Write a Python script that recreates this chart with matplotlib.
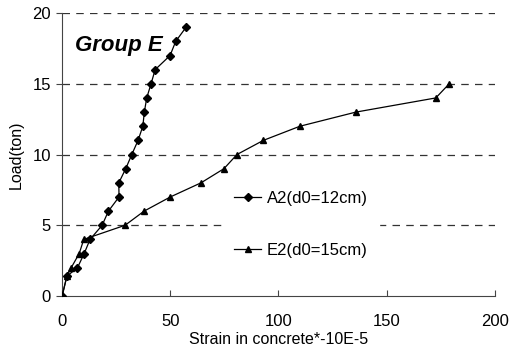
import numpy as np
import matplotlib.pyplot as plt

# A2 (d0=12cm) strain / load
a2_strain = [0, 2.2, 7.1, 10.2, 12.9, 18.5, 21.4, 26.3, 26.2, 29.4, 32.2, 35.1, 37.3, 38.0, 39.1, 41.1, 43.0, 49.9, 52.5, 57.3]
a2_load = [0, 1.4, 2, 3, 4, 5, 6, 7, 8, 9, 10, 11, 12, 13, 14, 15, 16, 17, 18, 19]

# E2 (d0=15cm)
e2_strain = [0, 2.2, 4.2, 7.9, 10.0, 29.1, 37.9, 50.0, 64.2, 74.8, 80.8, 93.0, 109.9, 135.8, 172.7, 178.9]
e2_load = [0, 1.4, 2, 3, 4, 5, 6, 7, 8, 9, 10, 11, 12, 13, 14, 15]

xticks = [0, 50, 100, 150, 200]
yticks = [0, 5, 10, 15, 20]

plt.rcParams['font.family'] = ['Liberation Sans', 'DejaVu Sans']

fig = plt.figure(figsize=(5.22, 3.53), dpi=100)
ax = fig.add_axes([0.119, 0.1615, 0.829, 0.8015])

for y in yticks[1:]:
    ax.plot([0, 200], [y, y], color='#333333', lw=0.9, dashes=(6, 5), zorder=1)

ax.plot(a2_strain, a2_load, color='black', lw=0.9, marker='D', ms=4, label='A2(d0=12cm)', zorder=3)
ax.plot(e2_strain, e2_load, color='black', lw=0.9, marker='^', ms=5, label='E2(d0=15cm)', zorder=3)

ax.set_xlim(0, 200)
ax.set_ylim(0, 20)
ax.set_xticks(xticks)
ax.set_yticks(yticks)
ax.tick_params(axis='x', direction='in', length=4, labelsize=12, pad=13, color='#444444')
ax.tick_params(axis='y', direction='out', length=4, labelsize=12, pad=4, color='#444444')
for s in ['top', 'right']:
    ax.spines[s].set_visible(False)
for s in ['left', 'bottom']:
    ax.spines[s].set_color('#444444')

ax.set_xlabel('Strain in concrete*-10E-5', fontsize=11.5, labelpad=2)
ax.set_ylabel('Load(ton)', fontsize=11.5, labelpad=6)

ax.text(6, 17.7, 'Group E', fontsize=16, fontweight='bold', fontstyle='italic', va='center')

leg = ax.legend(loc='center', bbox_to_anchor=(0.552, 0.2527), frameon=True, fontsize=12,
                labelspacing=2.25, handlelength=1.6, handletextpad=0.35, borderpad=0.7)
leg.get_frame().set_edgecolor('white')
leg.get_frame().set_facecolor('white')
leg.get_frame().set_alpha(1)

fig.savefig('out.png', dpi=100)
